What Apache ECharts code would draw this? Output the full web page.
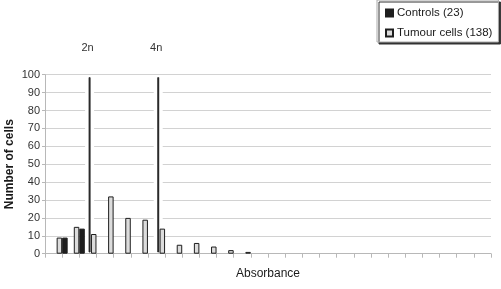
<!DOCTYPE html>
<html>
<head>
<meta charset="utf-8">
<script src="https://cdn.jsdelivr.net/npm/echarts@6/dist/echarts.min.js"></script>
<style>
  html, body { margin: 0; padding: 0; background: #fff; }
  #chart { width: 501px; height: 289px; }
</style>
</head>
<body>
<div id="chart"></div>
<script>
// Absorbance bins (unlabelled on the original axis)
const absorbanceBins = ['b0','b1','b2','b3','b4','b5','b6','b7','b8','b9','b10','b11','b12','b13',
  'b14','b15','b16','b17','b18','b19','b20','b21','b22','b23','b24','b25','b26'];
const controls = [null, 9, 14, null, null, null, null, null, null, null, null, null, null, null,
  null, null, null, null, null, null, null, null, null, null, null, null, null];
const tumourCells = [null, 9, 15, 11, 32, 20, 19, 14, 5, 6, 4, 2, 1, null,
  null, null, null, null, null, null, null, null, null, null, null, null, null];
const ploidyLabels = ['2n', '4n'];
const ploidyPositions = [2.6, 6.6];
const ploidyLineRange = [1, 98.5];
const yTicks = { min: 0, max: 100, interval: 10 };

const chart = echarts.init(document.getElementById('chart'), null, { renderer: 'canvas' });

const font = 'Liberation Sans, Arial, sans-serif';

const lineSeries = [];
ploidyLabels.forEach((lab, i) => {
  const x = ploidyPositions[i];
  lineSeries.push({
    type: 'line', xAxisIndex: 1, yAxisIndex: 0, z: 1,
    silent: true, symbol: 'none', animation: false,
    lineStyle: { color: '#ffffff', width: 9 },
    data: [[x, ploidyLineRange[0]], [x, ploidyLineRange[1]]]
  });
  lineSeries.push({
    type: 'line', xAxisIndex: 1, yAxisIndex: 0, z: 3,
    silent: true, symbol: 'circle', symbolSize: 1, showSymbol: true, animation: false,
    itemStyle: { color: '#2a2a2a' },
    lineStyle: { color: '#2a2a2a', width: 2 },
    label: {
      show: true, position: 'top', distance: 23, offset: [-2, 0],
      color: '#333', fontFamily: font, fontSize: 11,
      formatter: (p) => p.dataIndex === 1 ? lab : ''
    },
    data: [[x, ploidyLineRange[0]], [x, ploidyLineRange[1]]]
  });
});

chart.setOption({
  animation: false,
  backgroundColor: '#ffffff',
  grid: { left: 45, right: 10, top: 74.7, bottom: 35.3, outerBoundsMode: 'none', containLabel: false },
  legend: {
    orient: 'vertical',
    left: 377, top: 0,
    padding: [7, 6, 3, 8],
    itemWidth: 7, itemHeight: 7, itemGap: 8,
    icon: 'rect',
    backgroundColor: '#ffffff',
    borderColor: '#aaaaaa', borderWidth: 1,
    shadowColor: '#333333', shadowOffsetX: 2, shadowOffsetY: 2, shadowBlur: 0,
    textStyle: { fontFamily: font, fontSize: 11.5, color: '#1a1a1a', padding: [0, 0, 0, -1] },
    data: ['Controls (23)', 'Tumour cells (138)']
  },
  xAxis: [{
    type: 'category',
    data: absorbanceBins,
    boundaryGap: false,
    name: 'Absorbance',
    nameLocation: 'middle',
    nameGap: 14,
    nameMoveOverlap: false,
    nameTextStyle: { fontFamily: font, fontSize: 12, color: '#1a1a1a' },
    axisLine: { show: true, lineStyle: { color: '#b8b8b8', width: 1 } },
    axisTick: { show: true, interval: 0, length: 4, lineStyle: { color: '#b8b8b8' } },
    axisLabel: { show: false, interval: 0 },
    splitLine: { show: false }
  }, {
    type: 'value', min: 0, max: absorbanceBins.length - 1, show: false
  }],
  yAxis: {
    type: 'value',
    min: yTicks.min, max: yTicks.max, interval: yTicks.interval,
    name: 'Number of cells',
    nameLocation: 'middle',
    nameRotate: 90,
    nameGap: 29,
    nameMoveOverlap: false,
    nameTextStyle: { fontFamily: font, fontSize: 12, fontWeight: 'bold', color: '#1a1a1a' },
    axisLine: { show: true, lineStyle: { color: '#b8b8b8', width: 1 } },
    axisTick: { show: true, length: 3, lineStyle: { color: '#b8b8b8' } },
    axisLabel: { fontFamily: font, fontSize: 11, color: '#333', margin: 5 },
    splitLine: { show: true, lineStyle: { color: '#d2d2d2', width: 1 } }
  },
  series: [{
    name: 'Tumour cells (138)',
    type: 'bar',
    barWidth: 5.5,
    barGap: '0%',
    z: 2,
    itemStyle: { color: '#dcdcdc', borderColor: '#1e1e1e', borderWidth: 1 },
    data: tumourCells
  }, {
    name: 'Controls (23)',
    type: 'bar',
    barWidth: 5.5,
    barGap: '0%',
    z: 2,
    itemStyle: { color: '#1e1e1e', borderColor: '#1e1e1e', borderWidth: 1 },
    data: controls
  }].concat(lineSeries)
});
</script>
</body>
</html>
